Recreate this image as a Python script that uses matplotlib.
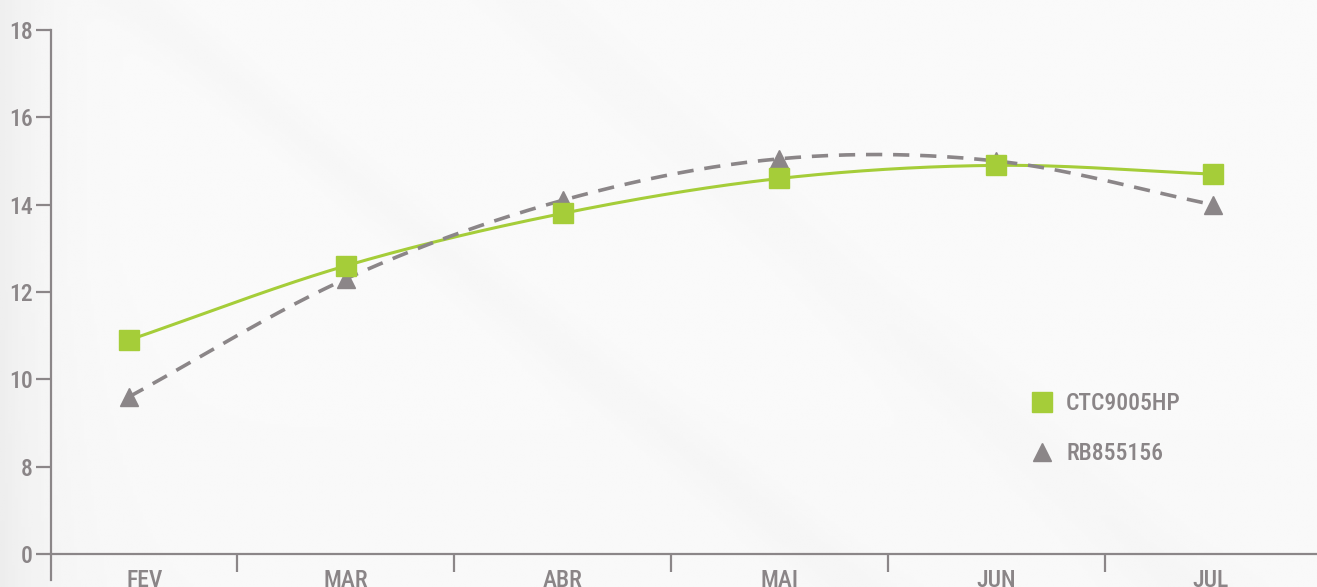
import numpy as np
import matplotlib
matplotlib.use("Agg")
import matplotlib.pyplot as plt
from matplotlib import font_manager
from matplotlib.lines import Line2D

# data
months = ["FEV", "MAR", "ABR", "MAI", "JUN", "JUL"]
ctc9005hp = [10.9, 12.6, 13.8, 14.6, 14.9, 14.7]
rb855156 = [9.6, 12.3, 14.1, 15.05, 15.0, 14.0]
ytick_vals = [6, 8, 10, 12, 14, 16, 18]
ytick_labels = ["0", "8", "10", "12", "14", "16", "18"]

GREEN = "#a5cd39"
GRAY = "#8b8688"
TXT = "#8a8587"

# condensed sans, first one found
have = {f.name for f in font_manager.fontManager.ttflist}
wanted = ["Roboto Condensed", "Archivo Narrow", "PT Sans Narrow", "Liberation Sans Narrow",
          "Open Sans Condensed", "Barlow Semi Condensed", "DejaVu Sans"]
font = [f for f in wanted if f in have][0]
plt.rcParams['font.family'] = [font, 'DejaVu Sans']


def catmull_rom(x, y, n=40):
    # smooth curve through the points (like the spreadsheet "smoothed line")
    x = np.asarray(x, float)
    y = np.asarray(y, float)
    px = np.concatenate([[2 * x[0] - x[1]], x, [2 * x[-1] - x[-2]]])
    py = np.concatenate([[2 * y[0] - y[1]], y, [2 * y[-1] - y[-2]]])
    xs, ys = [], []
    t = np.linspace(0, 1, n)
    for i in range(1, len(px) - 2):
        for p, out in ((px, xs), (py, ys)):
            p0, p1, p2, p3 = p[i - 1], p[i], p[i + 1], p[i + 2]
            out.append(0.5 * ((2 * p1) + (-p0 + p2) * t
                              + (2 * p0 - 5 * p1 + 4 * p2 - p3) * t ** 2
                              + (-p0 + 3 * p1 - 3 * p2 + p3) * t ** 3))
    return np.concatenate(xs), np.concatenate(ys)


W, H = 1317, 587
fig = plt.figure(figsize=(W / 100, H / 100), dpi=100)

# faded light background
bg = fig.add_axes([0, 0, 1, 1])
gx = np.linspace(0, 1, 400)
gy = np.linspace(0, 1, 200)
GX, GY = np.meshgrid(gx, gy)
shade = 0.98 - 0.045 * np.exp(-GX / 0.035) - 0.012 * np.exp(-((GX - 0.55 * GY - 0.1) / 0.03) ** 2) \
    - 0.01 * np.exp(-((GX - 0.5 * GY - 0.4) / 0.04) ** 2) - 0.012 * np.clip(GY - 0.45, 0, 1)
bg.imshow(shade, cmap="gray", vmin=0, vmax=1, aspect="auto", extent=[0, 1, 0, 1])
bg.axis("off")

l, r, b, t = 51, 1317, 554, 30
ax = fig.add_axes([l / W, 1 - b / H, (r - l) / W, (b - t) / H])
ax.patch.set_alpha(0)

x = np.arange(len(months))
cx, cy = catmull_rom(x, ctc9005hp)
ax.plot(cx, cy, color=GREEN, lw=2.2, zorder=2)
rx, ry = catmull_rom(x, rb855156)
ax.plot(rx, ry, color=GRAY, lw=2.6, ls=(0, (4.5, 3)), zorder=2)
ax.plot(x, rb855156, ls="none", marker="^", ms=13, color=GRAY, zorder=3)
ax.plot(x, ctc9005hp, ls="none", marker="s", ms=14.5, color=GREEN, zorder=4)

xlo, xhi = -0.36, 5.48
ax.set_xlim(xlo, xhi)
ax.set_ylim(6, 18)

for s in ["top", "right"]:
    ax.spines[s].set_visible(False)
for s in ["left", "bottom"]:
    ax.spines[s].set_color(GRAY)
    ax.spines[s].set_linewidth(1.6)
ax.spines["left"].set_bounds(5.4, 18)

ax.set_yticks(ytick_vals)
ax.set_yticklabels(ytick_labels)
ax.tick_params(axis="y", length=11, width=1.6, color=GRAY, labelcolor=TXT,
               labelsize=17, pad=2)

# month names centred between the separator ticks
seps = np.arange(len(months) - 1) + 0.5
edges = np.concatenate([[xlo], seps, [xhi]])
ax.set_xticks((edges[:-1] + edges[1:]) / 2)
ax.set_xticklabels(months)
ax.set_xticks(seps, minor=True)
ax.tick_params(axis="x", which="major", length=0, labelcolor=TXT, labelsize=17, pad=11)
ax.tick_params(axis="x", which="minor", length=13, width=1.6, color=GRAY)
for lab in ax.get_xticklabels() + ax.get_yticklabels():
    lab.set_fontweight("medium")

handles = [Line2D([], [], ls="none", marker="s", ms=15, color=GREEN),
           Line2D([], [], ls="none", marker="^", ms=13, color=GRAY)]
leg = ax.legend(handles, ["CTC9005HP", "RB855156"], loc="upper left",
                bbox_to_anchor=(0.757, 0.35), frameon=False, handlelength=1.0,
                handletextpad=0.5, labelspacing=1.15, prop={"size": 17, "weight": "medium"})
for txt in leg.get_texts():
    txt.set_color(TXT)

fig.savefig("out.png", dpi=100)
